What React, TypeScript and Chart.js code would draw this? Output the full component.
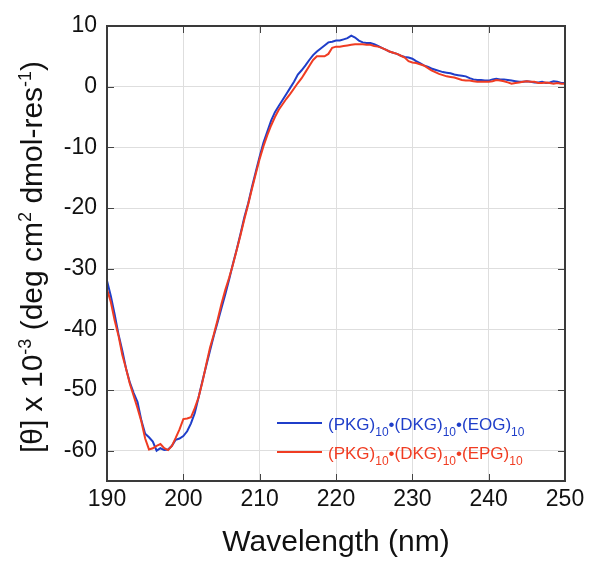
import { useEffect, useRef } from "react";
import { Chart, registerables } from "chart.js";

Chart.register(...registerables);

const wavelengths = [
  190, 190.5, 191, 191.5, 192, 192.5, 193, 193.5, 194, 194.5,
  195, 195.5, 196, 196.5, 197, 197.5, 198, 198.5, 199, 199.5,
  200, 200.5, 201, 201.5, 202, 202.5, 203, 203.5, 204, 204.5,
  205, 205.5, 206, 206.5, 207, 207.5, 208, 208.5, 209, 209.5,
  210, 210.5, 211, 211.5, 212, 212.5, 213, 213.5, 214, 214.5,
  215, 215.5, 216, 216.5, 217, 217.5, 218, 218.5, 219, 219.5,
  220, 220.5, 221, 221.5, 222, 222.5, 223, 223.5, 224, 224.5,
  225, 225.5, 226, 226.5, 227, 227.5, 228, 228.5, 229, 229.5,
  230, 230.5, 231, 231.5, 232, 232.5, 233, 233.5, 234, 234.5,
  235, 235.5, 236, 236.5, 237, 237.5, 238, 238.5, 239, 239.5,
  240, 240.5, 241, 241.5, 242, 242.5, 243, 243.5, 244, 244.5,
  245, 245.5, 246, 246.5, 247, 247.5, 248, 248.5, 249, 249.5,
  250,
];

const eogValues = [
  -32.0, -34.5, -37.5, -40.8, -43.5, -46.5, -48.8, -50.5, -52.0, -55.0,
  -57.2, -57.8, -58.5, -60.0, -59.6, -59.9, -59.8, -59.2, -58.2, -58.0,
  -57.6, -56.8, -55.5, -53.8, -51.2, -48.5, -46.0, -43.5, -41.0, -38.8,
  -36.5, -34.2, -31.8, -29.2, -26.8, -24.2, -21.5, -19.2, -16.5, -14.0,
  -11.5, -9.2, -7.4, -5.6, -4.2, -3.2, -2.2, -1.2, -0.2, 0.8,
  2.0, 2.7, 3.5, 4.4, 5.2, 5.8, 6.3, 6.8, 7.3, 7.4,
  7.6, 7.6, 7.8, 8.0, 8.4, 8.1, 7.6, 7.3, 7.2, 7.2,
  7.0, 6.7, 6.4, 6.1, 5.8, 5.6, 5.4, 5.1, 4.9, 4.8,
  4.6, 4.2, 3.9, 3.5, 3.3, 3.0, 2.8, 2.6, 2.4, 2.3,
  2.2, 2.0, 1.9, 1.8, 1.7, 1.4, 1.2, 1.1, 1.1, 1.0,
  1.0, 1.2, 1.3, 1.2, 1.2, 1.1, 1.0, 0.9, 0.8, 0.8,
  0.9, 0.8, 0.7, 0.7, 0.8, 0.6, 0.7, 0.9, 0.8, 0.6,
  0.6,
];

const epgValues = [
  -33.4, -35.5, -38.5, -41.0, -44.2, -46.5, -49.0, -51.0, -53.0, -55.2,
  -58.0, -59.8, -59.6, -59.2, -58.9, -59.6, -59.9, -59.2, -57.9, -56.5,
  -54.8, -54.7, -54.5, -53.0, -51.2, -48.7, -45.8, -43.0, -40.8, -38.4,
  -35.8, -33.5, -31.5, -29.3, -26.9, -24.4, -21.8, -19.4, -16.8, -14.3,
  -11.9, -9.8, -8.0, -6.4, -5.0, -3.8, -2.9, -2.0, -1.2, -0.3,
  0.6, 1.4, 2.4, 3.4, 4.4, 5.0, 5.0, 5.0, 5.4, 6.4,
  6.6, 6.6, 6.7, 6.8, 6.9, 7.0, 7.0, 7.0, 6.9, 6.9,
  6.7, 6.6, 6.4, 6.1, 5.8, 5.6, 5.4, 5.1, 4.8, 4.2,
  4.0, 3.9, 3.7, 3.5, 3.1, 2.7, 2.4, 2.1, 1.9, 1.7,
  1.6, 1.5, 1.3, 1.1, 1.0, 1.0, 0.9, 0.8, 0.8, 0.8,
  0.8, 0.9, 1.1, 1.0, 0.9, 0.7, 0.5, 0.6, 0.7, 0.8,
  0.9, 0.8, 0.8, 0.6, 0.6, 0.7, 0.6, 0.5, 0.6, 0.5,
  0.5,
];

const xTickValues = [190, 200, 210, 220, 230, 240, 250];
const yTickValues = [-60, -50, -40, -30, -20, -10, 0, 10];

// legend labels as alternating [normal, subscript, normal, subscript, ...]
const eogLabelParts = ["(PKG)", "10", "•(DKG)", "10", "•(EOG)", "10"];
const epgLabelParts = ["(PKG)", "10", "•(DKG)", "10", "•(EPG)", "10"];

// y title as alternating [normal, superscript, ...]
const yTitleParts = ["[θ] x 10", "-3", " (deg cm", "2", " dmol-res", "-1", ")"];
const xTitle = "Wavelength (nm)";

const BLUE = "#1f3ec9";
const RED = "#f03c22";
const FONT = "'Liberation Sans', Arial, Helvetica, sans-serif";

const overlayPlugin = {
  id: "overlay",
  afterDraw(chart: any) {
    const ctx = chart.ctx as CanvasRenderingContext2D;
    const a = chart.chartArea;
    const xs = chart.scales.x;
    const ys = chart.scales.y;
    ctx.save();

    // inward tick marks
    ctx.strokeStyle = "#444";
    ctx.lineWidth = 1;
    const tl = 7;
    ctx.beginPath();
    for (const v of yTickValues) {
      const py = Math.round(ys.getPixelForValue(v)) + 0.5;
      ctx.moveTo(a.left, py);
      ctx.lineTo(a.left + tl, py);
      ctx.moveTo(a.right, py);
      ctx.lineTo(a.right - tl, py);
    }
    for (const v of xTickValues) {
      const px = Math.round(xs.getPixelForValue(v)) + 0.5;
      ctx.moveTo(px, a.top);
      ctx.lineTo(px, a.top + tl);
      ctx.moveTo(px, a.bottom);
      ctx.lineTo(px, a.bottom - tl);
    }
    ctx.stroke();

    // frame
    ctx.strokeStyle = "#3a3a3a";
    ctx.lineWidth = 2;
    ctx.strokeRect(a.left, a.top, a.right - a.left, a.bottom - a.top);

    // legend
    const legendItems = [
      { parts: eogLabelParts, color: BLUE },
      { parts: epgLabelParts, color: RED },
    ];
    legendItems.forEach((item, i) => {
      const ly = a.bottom - 58 + i * 29;
      ctx.strokeStyle = item.color;
      ctx.lineWidth = 2;
      ctx.beginPath();
      ctx.moveTo(a.left + 170, ly);
      ctx.lineTo(a.left + 215, ly);
      ctx.stroke();
      ctx.fillStyle = item.color;
      ctx.textBaseline = "alphabetic";
      ctx.textAlign = "left";
      let x = a.left + 221;
      item.parts.forEach((p, k) => {
        const sub = k % 2 === 1;
        ctx.font = sub ? `12px ${FONT}` : `17px ${FONT}`;
        ctx.fillText(p, x, ly + (sub ? 13 : 7));
        x += ctx.measureText(p).width;
      });
    });

    // y title
    ctx.fillStyle = "#111";
    ctx.save();
    ctx.translate(42, (a.top + a.bottom) / 2 + 3.5);
    ctx.rotate(-Math.PI / 2);
    let total = 0;
    yTitleParts.forEach((p, k) => {
      ctx.font = k % 2 === 1 ? `18px ${FONT}` : `30px ${FONT}`;
      total += ctx.measureText(p).width;
    });
    let tx = -total / 2;
    ctx.textAlign = "left";
    ctx.textBaseline = "alphabetic";
    yTitleParts.forEach((p, k) => {
      const sup = k % 2 === 1;
      ctx.font = sup ? `18px ${FONT}` : `30px ${FONT}`;
      ctx.fillText(p, tx, sup ? -11 : 0);
      tx += ctx.measureText(p).width;
    });
    ctx.restore();

    // x title
    ctx.font = `30px ${FONT}`;
    ctx.textAlign = "center";
    ctx.textBaseline = "alphabetic";
    ctx.fillStyle = "#111";
    ctx.fillText(xTitle, (a.left + a.right) / 2, 551);

    ctx.restore();
  },
};

export default function App() {
  const ref = useRef<HTMLCanvasElement | null>(null);

  useEffect(() => {
    document.body.style.margin = "0";
    if (!ref.current) return;
    const chart = new Chart(ref.current, {
      type: "line",
      data: {
        datasets: [
          {
            label: "EOG",
            data: wavelengths.map((w, i) => ({ x: w, y: eogValues[i] })),
            borderColor: BLUE,
            borderWidth: 2,
            pointRadius: 0,
            tension: 0,
            order: 2,
          },
          {
            label: "EPG",
            data: wavelengths.map((w, i) => ({ x: w, y: epgValues[i] })),
            borderColor: RED,
            borderWidth: 2,
            pointRadius: 0,
            tension: 0,
            order: 1,
          },
        ],
      },
      options: {
        animation: false,
        responsive: false,
        layout: { padding: { top: 26, right: 35, left: 0, bottom: 0 } },
        plugins: {
          legend: { display: false },
          tooltip: { enabled: false },
          title: { display: false },
        },
        scales: {
          x: {
            type: "linear",
            min: 190,
            max: 250,
            afterBuildTicks: (s: any) => {
              s.ticks = xTickValues.map((v) => ({ value: v }));
            },
            afterFit: (s: any) => {
              s.height = 86;
            },
            ticks: {
              font: { size: 23, family: FONT },
              color: "#111",
              padding: 5,
              maxRotation: 0,
              autoSkip: false,
            },
            grid: { color: "#dedede", lineWidth: 1, drawTicks: false },
            border: { display: false },
          },
          y: {
            type: "linear",
            min: -65,
            max: 10,
            afterBuildTicks: (s: any) => {
              s.ticks = yTickValues.map((v) => ({ value: v }));
            },
            afterFit: (s: any) => {
              s.width = 107;
            },
            ticks: {
              font: { size: 23, family: FONT },
              color: "#111",
              padding: 10,
              autoSkip: false,
            },
            grid: { color: "#dedede", lineWidth: 1, drawTicks: false },
            border: { display: false },
          },
        },
      },
      plugins: [overlayPlugin],
    });
    return () => chart.destroy();
  }, []);

  return (
    <div style={{ width: 600, height: 567 }}>
      <canvas ref={ref} width={600} height={567} style={{ display: "block" }} />
    </div>
  );
}
